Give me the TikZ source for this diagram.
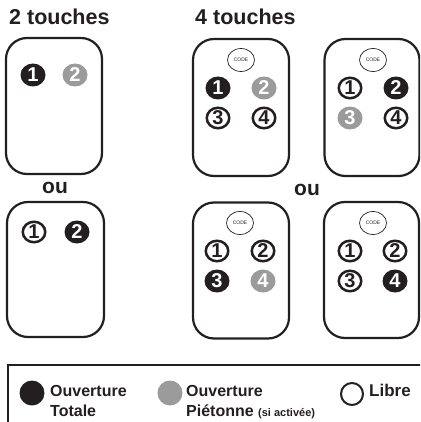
\documentclass[tikz,border=0pt]{standalone}
\usepackage{fontspec}
\setmainfont{Liberation Sans}
\usetikzlibrary{shapes.geometric}
\definecolor{ink}{RGB}{35,31,32}
\definecolor{pgrey}{RGB}{155,155,155}
\tikzset{
  remote/.style={draw=ink, line width=2.2pt, rounded corners=21pt, minimum width=95pt, minimum height=136pt, inner sep=0pt},
  btnbase/.style={ellipse, minimum width=25pt, minimum height=23pt, inner sep=0pt, font=\fontsize{20}{20}\bfseries\selectfont},
  btnblack/.style={btnbase, fill=ink, text=white},
  btngrey/.style={btnbase, fill=pgrey, text=white},
  btnwhite/.style={btnbase, draw=ink, line width=2.5pt, fill=white, text=ink, minimum width=22.5pt, minimum height=20.5pt},
  codebtn/.style={ellipse, draw=ink, line width=0.7pt, minimum width=27pt, minimum height=23pt, inner sep=0pt, font=\fontsize{5}{5}\selectfont, text=ink},
  title/.style={anchor=base west, inner sep=0pt, text=ink, font=\fontsize{21.5}{24}\bfseries\selectfont},
  outxt/.style={anchor=base, inner sep=0pt, text=ink, font=\fontsize{21}{24}\bfseries\selectfont},
  legtxt/.style={anchor=base west, inner sep=0pt, text=ink, font=\fontsize{16}{20}\bfseries\selectfont},
}
\begin{document}
\begin{tikzpicture}[x=1pt,y=-1pt]
\useasboundingbox (0,0) rectangle (420,422);
\clip (0,0) rectangle (420,422);
% titles
\node[title] (t2) at (9,25) {2 touches};
\node[title] (t4) at (195,25) {4 touches};
% remote A
\node[remote, minimum width=96pt] (rA) at (54,106) {};
\node[btnblack] (a1) at (33,75) {1};
\node[btngrey] (a2) at (75,75) {2};
\node[outxt] (ou1) at (55,193) {ou};
% remote B
\node[remote, minimum width=97pt, minimum height=135pt] (rB) at (55.5,269.5) {};
\node[btnwhite] (b1) at (34,232) {1};
\node[btnblack] (b2) at (77,232) {2};
% remote C
\node[remote, minimum width=96pt, minimum height=137pt] (rC) at (241,107.5) {};
\node[codebtn] (cc) at (241,60) {CODE};
\node[btnblack] (c1) at (218,88) {1};
\node[btngrey] (c2) at (264,88) {2};
\node[btnwhite] (c3) at (218,118) {3};
\node[btnwhite] (c4) at (264,118) {4};
% remote D
\node[remote, minimum height=137pt] (rD) at (372,107.5) {};
\node[codebtn] (dc) at (373,60) {CODE};
\node[btnwhite] (d1) at (350,88) {1};
\node[btnblack] (d2) at (396,88) {2};
\node[btngrey] (d3) at (350,118) {3};
\node[btnwhite] (d4) at (396,118) {4};
\node[outxt] (ou2) at (307,195) {ou};
% remote E
\node[remote, minimum width=96pt] (rE) at (241,270.5) {};
\node[codebtn] (ec) at (240,223) {CODE};
\node[btnwhite] (e1) at (217,251) {1};
\node[btnwhite] (e2) at (263,251) {2};
\node[btnblack] (e3) at (217,281) {3};
\node[btngrey] (e4) at (263,281) {4};
% remote F
\node[remote] (rF) at (371.5,270) {};
\node[codebtn] (fc) at (373,223) {CODE};
\node[btnwhite] (f1) at (350,251) {1};
\node[btnwhite] (f2) at (395,251) {2};
\node[btnwhite] (f3) at (350,281) {3};
\node[btnblack] (f4) at (395,281) {4};
% legend
\draw[draw=ink, line width=2.2pt] (8,440) -- (8,365) -- (440,365);
\node[circle, fill=ink, minimum size=25pt, inner sep=0pt] (lk) at (32,393) {};
\node[legtxt] (lk1) at (50,396) {Ouverture};
\node[legtxt] (lk2) at (50,416) {Totale};
\node[circle, fill=pgrey, minimum size=25pt, inner sep=0pt] (lg) at (170,393) {};
\node[legtxt] (lg1) at (186,396) {Ouverture};
\node[legtxt] (lg2) at (186,416) {Piétonne {\fontsize{11}{12}\selectfont (si activée)}};
\node[circle, draw=ink, line width=2pt, minimum size=22pt, inner sep=0pt] (lw) at (352,394) {};
\node[legtxt, font=\fontsize{17}{20}\bfseries\selectfont] (lw1) at (369,396) {Libre};
\end{tikzpicture}
\end{document}
